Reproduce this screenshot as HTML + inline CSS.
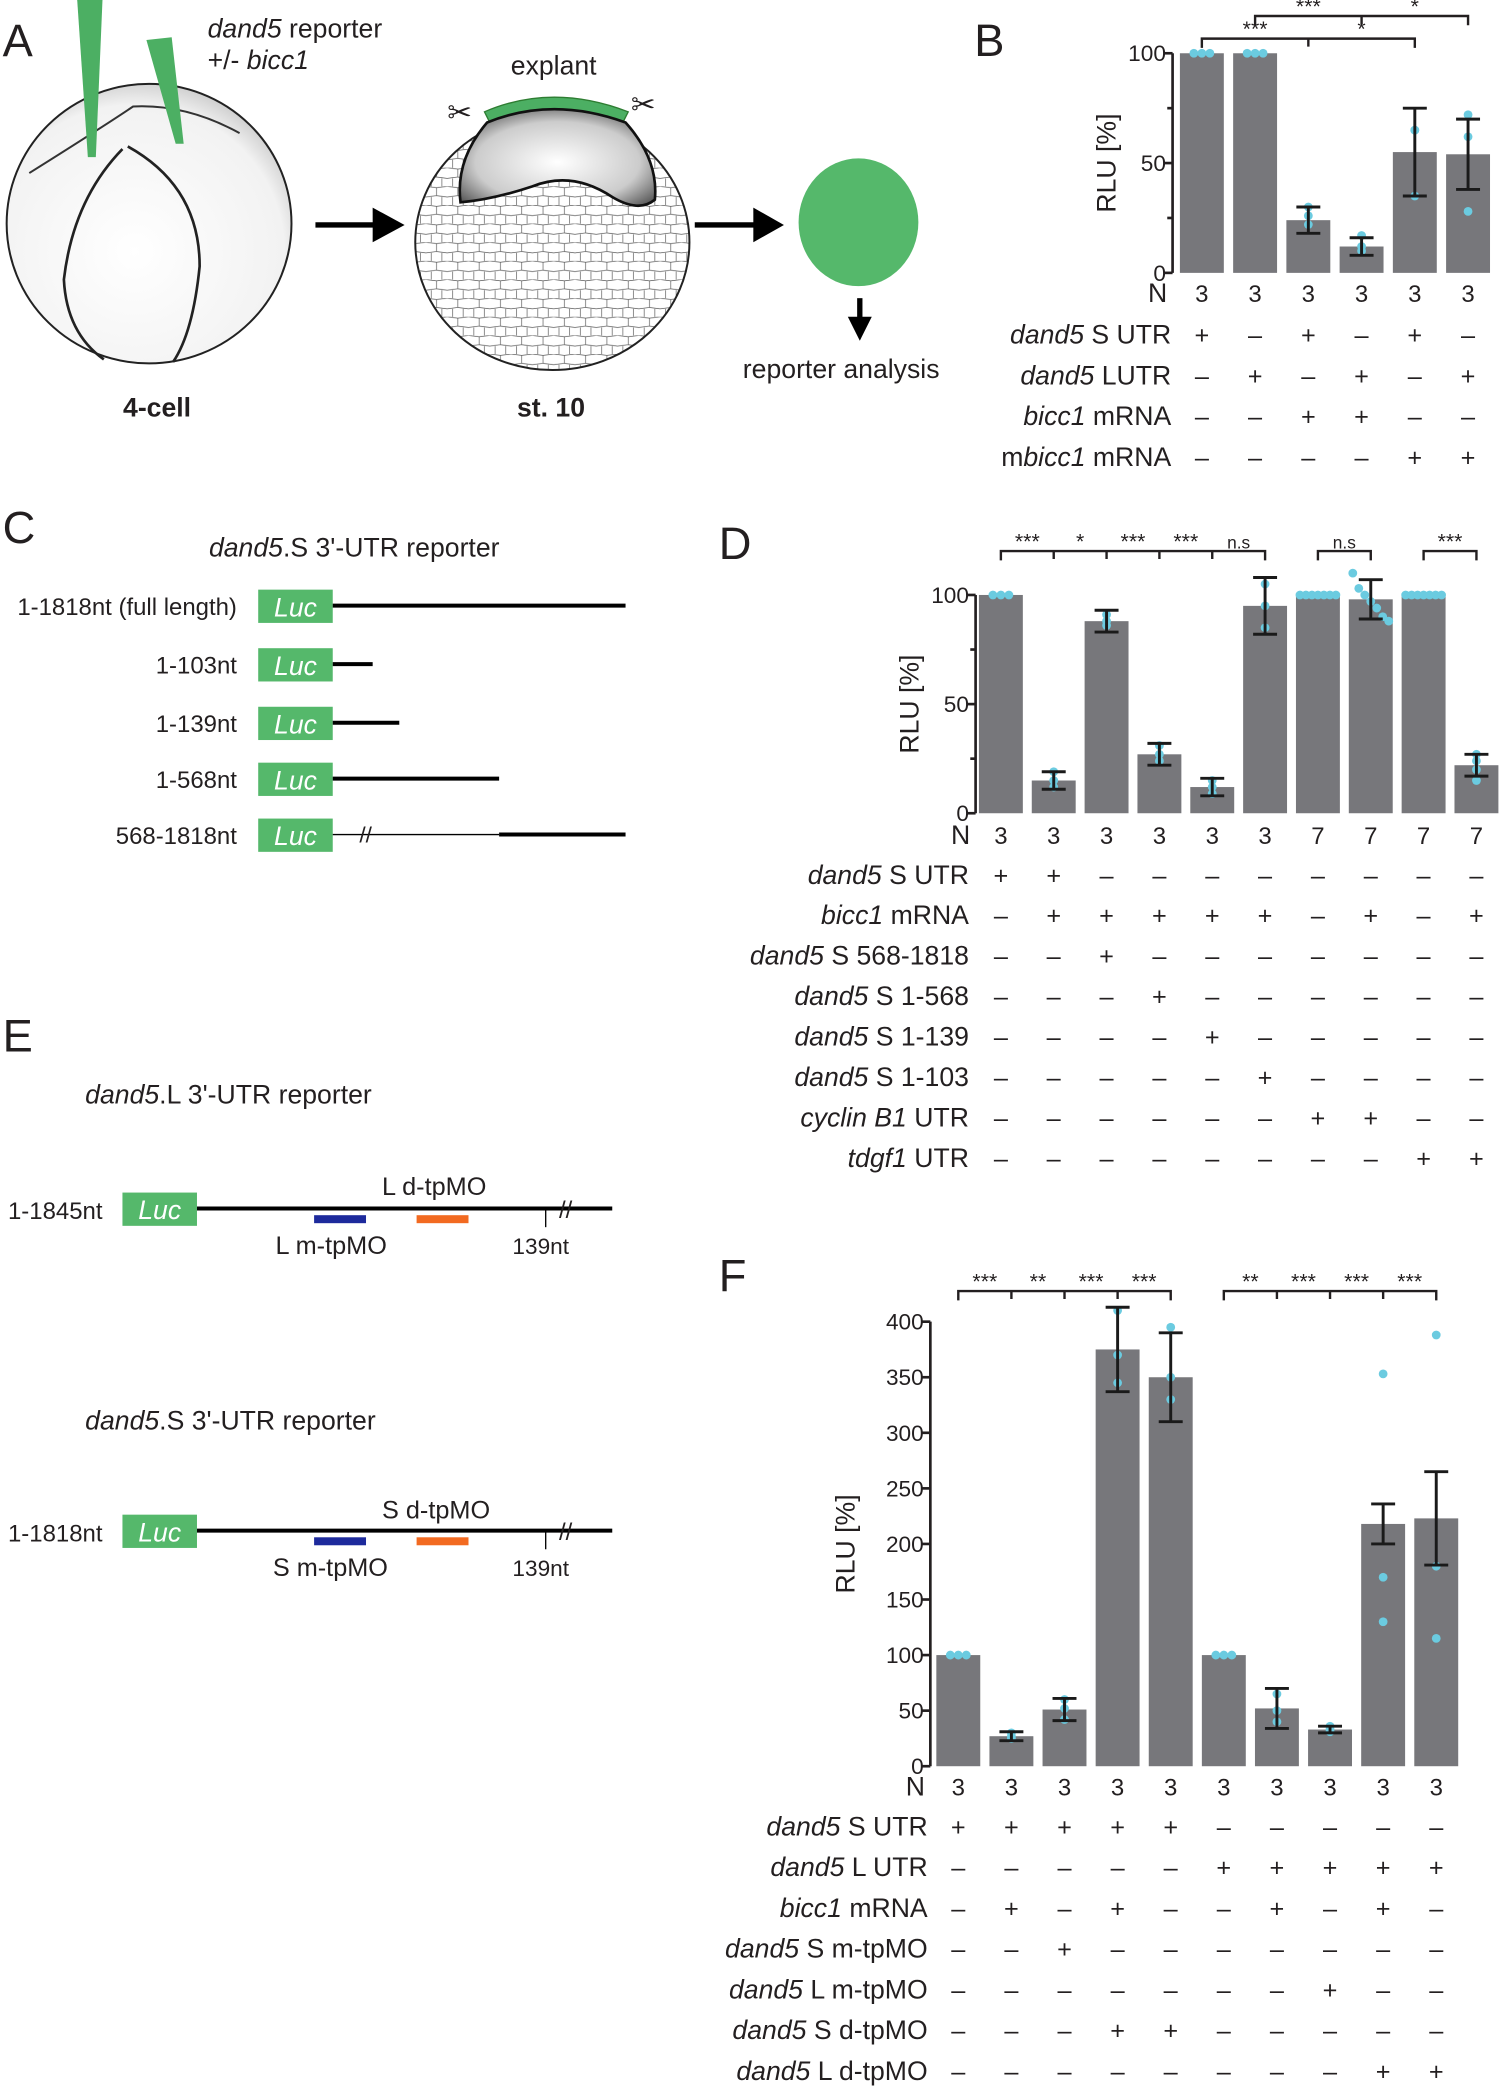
<!DOCTYPE html>
<html><head><meta charset="utf-8"><style>
html,body{margin:0;padding:0;background:#fff}
svg{display:block}
text{font-family:"Liberation Sans",sans-serif;fill:#231f20}
.it{font-style:italic}
</style></head><body>
<svg id="fig" width="1500" height="2087" viewBox="0 0 1127 1568" xmlns="http://www.w3.org/2000/svg">
<defs>
<radialGradient id="eggG" cx="0.45" cy="0.6" r="0.75"><stop offset="0" stop-color="#fff"/><stop offset="0.7" stop-color="#f2f2f2"/><stop offset="1" stop-color="#999"/></radialGradient>
<radialGradient id="cavG" cx="0.5" cy="0.55" r="0.7"><stop offset="0" stop-color="#fff"/><stop offset="0.6" stop-color="#ccc"/><stop offset="1" stop-color="#333"/></radialGradient>
<pattern id="cells" width="16" height="14" patternUnits="userSpaceOnUse"><path d="M0 0 L8 1 L16 0 M8 1 L8 7 L0 8 M8 7 L16 8 M4 8 L4 14 M12 8 L12 14" stroke="#555" stroke-width="0.5" fill="none"/></pattern>
</defs>

<!-- Panel A -->
<g>
<text x="2" y="42" font-size="34">A</text>
<ellipse cx="112" cy="168" rx="107" ry="105" fill="url(#eggG)" stroke="#222" stroke-width="1.5"/>
<path d="M92 112 Q55 150 48 210 Q50 250 78 270" stroke="#222" stroke-width="2" fill="none"/>
<path d="M96 110 Q150 140 150 200 Q145 250 130 272" stroke="#222" stroke-width="2" fill="none"/>
<path d="M22 130 Q70 100 100 80 Q140 78 180 100" stroke="#333" stroke-width="1.5" fill="none"/>
<polygon points="58,0 77,0 72,118 66,118" fill="#4caf63"/>
<polygon points="110,30 129,28 138,108 132,108" fill="#4caf63"/>
<text x="156" y="28" font-size="20"><tspan class="it">dand5</tspan> reporter</text>
<text x="156" y="52" font-size="20">+/- <tspan class="it">bicc1</tspan></text>
<text x="118" y="313" font-size="20" font-weight="bold" text-anchor="middle">4-cell</text>
<line x1="237" y1="169" x2="285" y2="169" stroke="#000" stroke-width="4"/>
<polygon points="280,156 304,169 280,182" fill="#000"/>
<ellipse cx="415" cy="182" rx="103" ry="96" fill="url(#cells)" stroke="#222" stroke-width="1.5"/>
<path d="M364 84 Q415 62 472 84 L468 92 Q415 72 368 92 Z" fill="#4caf63" stroke="#2e7d32" stroke-width="1"/>
<path d="M366 92 Q415 72 470 92 Q495 120 492 150 Q480 160 460 148 Q430 128 400 140 Q370 150 346 152 Q342 120 366 92 Z" fill="url(#cavG)" stroke="#111" stroke-width="2"/>
<text x="416" y="56" font-size="20" text-anchor="middle">explant</text>
<text x="336" y="92" font-size="22">✂</text>
<text x="474" y="86" font-size="22">✂</text>
<text x="414" y="313" font-size="20" font-weight="bold" text-anchor="middle">st. 10</text>
<line x1="522" y1="169" x2="570" y2="169" stroke="#000" stroke-width="4"/>
<polygon points="566,156 589,169 566,182" fill="#000"/>
<ellipse cx="645" cy="167" rx="45" ry="48" fill="#55b86b"/>
<line x1="646" y1="224" x2="646" y2="242" stroke="#000" stroke-width="4"/>
<polygon points="637,238 646,256 655,238" fill="#000"/>
<text x="632" y="284" font-size="20" text-anchor="middle">reporter analysis</text>
</g>

<text x="732" y="42" font-size="34">B</text>
<text x="2" y="408" font-size="34">C</text>
<text x="540" y="420" font-size="34">D</text>
<text x="2" y="790" font-size="34">E</text>
<text x="540" y="970" font-size="34">F</text>

<!-- Panel C -->
<g>
<text x="157" y="418" font-size="20"><tspan class="it">dand5</tspan>.S 3'-UTR reporter</text>
<g id="cRows"></g>
</g>

<!-- Panel E -->
<g>
<text x="64" y="829" font-size="20"><tspan class="it">dand5</tspan>.L 3'-UTR reporter</text>
<text x="6" y="916" font-size="18">1-1845nt</text>
<rect x="92" y="896" width="56" height="25" fill="#55b86b"/>
<text x="120" y="916" font-size="20" class="it" text-anchor="middle" style="fill:#fff">Luc</text>
<line x1="148" y1="908" x2="460" y2="908" stroke="#000" stroke-width="3"/>
<text x="420" y="915" font-size="18">//</text>
<rect x="236" y="913" width="39" height="6" fill="#1d2a9c"/>
<rect x="313" y="913" width="39" height="6" fill="#f26a21"/>
<line x1="410" y1="908" x2="410" y2="922" stroke="#000" stroke-width="1"/>
<text x="287" y="898" font-size="19">L d-tpMO</text>
<text x="207" y="942" font-size="19">L m-tpMO</text>
<text x="385" y="942" font-size="17">139nt</text>

<text x="64" y="1074" font-size="20"><tspan class="it">dand5</tspan>.S 3'-UTR reporter</text>
<text x="6" y="1158" font-size="18">1-1818nt</text>
<rect x="92" y="1138" width="56" height="25" fill="#55b86b"/>
<text x="120" y="1158" font-size="20" class="it" text-anchor="middle" style="fill:#fff">Luc</text>
<line x1="148" y1="1150" x2="460" y2="1150" stroke="#000" stroke-width="3"/>
<text x="420" y="1157" font-size="18">//</text>
<rect x="236" y="1155" width="39" height="6" fill="#1d2a9c"/>
<rect x="313" y="1155" width="39" height="6" fill="#f26a21"/>
<line x1="410" y1="1150" x2="410" y2="1164" stroke="#000" stroke-width="1"/>
<text x="287" y="1141" font-size="19">S d-tpMO</text>
<text x="205" y="1184" font-size="19">S m-tpMO</text>
<text x="385" y="1184" font-size="17">139nt</text>
</g>

<g id="chartB"></g>
<g id="chartD"></g>
<g id="chartF"></g>
</svg>
<script>
var NS='http://www.w3.org/2000/svg';
// ---- Panel C data ----
var cLabels=['1-1818nt (full length)','1-103nt','1-139nt','1-568nt','568-1818nt'];
// ---- Panel B data ----
var bValues=[100,100,24,12,55,54];
var bErrors=[0,0,6,4,20,16];
var bDots=[[100,100,100],[100,100,100],[30,26,22],[17,12,10],[65,65,35],[72,62,28]];
var bN=[3,3,3,3,3,3];
var bTicks=[0,50,100];
var bRowLabels=[['dand5',' S UTR'],['dand5',' LUTR'],['bicc1',' mRNA'],['mbicc1',' mRNA']];
var bSigns=['+-+-+-','-+-+-+','--++--','----++'];
// ---- Panel D data ----
var dValues=[100,15,88,27,12,95,100,98,100,22];
var dErrors=[0,4,5,5,4,13,0,9,0,5];
var dDots=[[100,100,100],[19,15,12],[91,88,86],[31,27,24],[15,12,9],[105,95,85],[100,100,100,100,100,100,100],[110,103,100,97,94,90,88],[100,100,100,100,100,100,100],[27,24,20,15]];
var dN=[3,3,3,3,3,3,7,7,7,7];
var dTicks=[0,50,100];
var dRowLabels=[['dand5',' S UTR'],['bicc1',' mRNA'],['dand5',' S 568-1818'],['dand5',' S 1-568'],['dand5',' S 1-139'],['dand5',' S 1-103'],['cyclin B1',' UTR'],['tdgf1',' UTR']];
var dSigns=['++--------','-+++++-+-+','--+-------','---+------','----+-----','-----+----','------++--','--------++'];
// ---- Panel F data ----
var fValues=[100,27,51,375,350,100,52,33,218,223];
var fErrors=[0,4,10,38,40,0,18,3,18,42];
var fDots=[[100,100,100],[30,27,25],[60,52,42],[410,370,345],[395,350,330],[100,100,100],[65,50,40],[36,33,31],[353,170,130],[388,180,115]];
var fN=[3,3,3,3,3,3,3,3,3,3];
var fTicks=[0,50,100,150,200,250,300,350,400];
var fRowLabels=[['dand5',' S UTR'],['dand5',' L UTR'],['bicc1',' mRNA'],['dand5',' S m-tpMO'],['dand5',' L m-tpMO'],['dand5',' S d-tpMO'],['dand5',' L d-tpMO']];
var fSigns=['+++++-----','-----+++++','-+-+--+-+-','--+-------','-------+--','---++-----','--------++'];

function el(tag,attrs,parent){var e=document.createElementNS(NS,tag);for(var k in attrs)e.setAttribute(k,attrs[k]);parent.appendChild(e);return e;}

// Panel C
(function(){
 var g=document.getElementById('cRows');
 var ys=[455,499,543,585,627];
 var ends=[470,280,300,375,470];
 for(var i=0;i<cLabels.length;i++){
  var y=ys[i];
  var t=el('text',{x:178,y:y+7,'font-size':18,'text-anchor':'end'},g);t.textContent=cLabels[i];
  
  
  var r=el('rect',{x:194,y:y-12,width:56,height:25,fill:'#55b86b'},g);
  
  
  var lt=el('text',{x:222,y:y+8,'font-size':20,'text-anchor':'middle',style:'fill:#fff;font-style:italic'},g);lt.textContent='Luc';
  
  
  if(i<4){var l=el('line',{x1:250,y1:y,x2:ends[i],y2:y,stroke:'#000','stroke-width':3},g);
   
   }
  else{el('line',{x1:250,y1:y,x2:375,y2:y,stroke:'#000','stroke-width':1},g);
   var l2=el('line',{x1:375,y1:y,x2:470,y2:y,stroke:'#000','stroke-width':3},g);
   
   
   var b=el('text',{x:270,y:y+6,'font-size':17},g);b.textContent='//';}
 }
})();

function drawChart(gid,cfg){
 var g=document.getElementById(gid);
 function ys(v){return cfg.y0-(v-cfg.ymin)/(cfg.ymax-cfg.ymin)*(cfg.y0-cfg.y1);}
 function xs(i){return cfg.x0+i*cfg.step;}
 var ax=el('line',{x1:cfg.axX,y1:ys(cfg.ymin),x2:cfg.axX,y2:ys(cfg.ticks[cfg.ticks.length-1]),stroke:'#231f20','stroke-width':2},g);
 
 
 cfg.ticks.forEach(function(t){
  el('line',{x1:cfg.axX-6,y1:ys(t),x2:cfg.axX,y2:ys(t),stroke:'#231f20','stroke-width':2},g);
  var tx=el('text',{x:cfg.axX-5,y:ys(t)+6,'font-size':17,'text-anchor':'end'},g);tx.textContent=t;
  
  
 });
 if(cfg.minor){cfg.minor.forEach(function(t){el('line',{x1:cfg.axX-4,y1:ys(t),x2:cfg.axX,y2:ys(t),stroke:'#231f20','stroke-width':2},g);});}
 var yt=el('text',{x:0,y:0,'font-size':20,'text-anchor':'middle',transform:'translate('+cfg.titleX+','+((ys(cfg.ymin)+ys(cfg.ticks[cfg.ticks.length-1]))/2)+') rotate(-90)'},g);yt.textContent='RLU [%]';
 
 
 cfg.values.forEach(function(v,i){
  var cx=xs(i),bw=cfg.bw;
  var r=el('rect',{x:cx-bw/2,y:ys(v),width:bw,height:ys(cfg.ymin)-ys(v),fill:'#77777b'},g);
  
  
  var dots=cfg.dots[i];
  dots.forEach(function(d,j){
   var off=(j-(dots.length-1)/2)*(dots.length>4?4.5:(d===dots[0]&&dots.every(function(q){return q===d;})?6:0));
   var c=el('circle',{cx:cx+off,cy:ys(d),r:3.3,fill:'#6bcbe0'},g);
   
   
  });
  var e=cfg.errors[i];
  if(e>0){
   var eg=el('path',{d:'M'+(cx-9)+' '+ys(v+e)+'H'+(cx+9)+'M'+cx+' '+ys(v+e)+'V'+ys(v-e)+'M'+(cx-9)+' '+ys(v-e)+'H'+(cx+9),stroke:'#1a1a1a','stroke-width':2.2,fill:'none'},g);
   
   
  }
  var nt=el('text',{x:cx,y:cfg.nY,'font-size':18,'text-anchor':'middle'},g);nt.textContent=cfg.n[i];
  
  
 });
 var nl=el('text',{x:cfg.axX-4,y:cfg.nY,'font-size':20,'text-anchor':'end'},g);nl.textContent='N';
 
 
 cfg.rows.forEach(function(lab,r){
  var y=cfg.rowY0+r*cfg.rowStep;
  var t=el('text',{x:cfg.labX,y:y,'font-size':20,'text-anchor':'end'},g);
  var s1=el('tspan',{'font-style':'italic'},t);s1.textContent=lab[0];
  var s2=el('tspan',{},t);s2.textContent=lab[1];
  if(lab[0]==='mbicc1'){s1.textContent='bicc1';var s0=document.createElementNS(NS,'tspan');s0.textContent='m';t.insertBefore(s0,s1);}
  
  
  var sg=cfg.signs[r];
  for(var i=0;i<sg.length;i++){
   var st=el('text',{x:xs(i),y:y,'font-size':19,'text-anchor':'middle'},g);st.textContent=sg[i]==='+'?'+':'\u2013';
   
   
  }
 });
 cfg.brackets.forEach(function(b){
  var y=b.y,d='M'+xs(b.idx[0])+' '+(y+7)+'V'+y+'H'+xs(b.idx[b.idx.length-1])+'V'+(y+7);
  for(var k=1;k<b.idx.length-1;k++)d+='M'+xs(b.idx[k])+' '+y+'V'+(y+6);
  var p=el('path',{d:d,stroke:'#231f20','stroke-width':1.8,fill:'none'},g);
  
  
  b.labels.forEach(function(l,k){
   var mx=(xs(b.idx[k])+xs(b.idx[k+1]))/2;
   var lt=el('text',{x:mx,y:y-2,'font-size':l==='n.s'?13:16,'text-anchor':'middle'},g);lt.textContent=l;
   
   
  });
 });
}

drawChart('chartB',{values:bValues,errors:bErrors,dots:bDots,n:bN,ticks:bTicks,minor:[25,75],ymin:0,ymax:100,y0:205,y1:40,x0:903,step:40,bw:33,axX:881,titleX:838,nY:227,rows:bRowLabels,signs:bSigns,rowY0:258,rowStep:30.7,labX:880,
 brackets:[{y:12,idx:[1,3,5],labels:['***','*']},{y:29,idx:[0,2,4],labels:['***','*']}]});
drawChart('chartD',{values:dValues,errors:dErrors,dots:dDots,n:dN,ticks:dTicks,minor:[25,75],ymin:0,ymax:100,y0:611,y1:447,x0:752,step:39.7,bw:33,axX:733,titleX:690,nY:634,rows:dRowLabels,signs:dSigns,rowY0:664,rowStep:30.4,labX:728,
 brackets:[{y:414,idx:[0,1,2,3,4,5],labels:['***','*','***','***','n.s']},{y:414,idx:[6,7],labels:['n.s']},{y:414,idx:[8,9],labels:['***']}]});
drawChart('chartF',{values:fValues,errors:fErrors,dots:fDots,n:fN,ticks:fTicks,ymin:0,ymax:400,y0:1327,y1:993,x0:720,step:39.9,bw:33,axX:699,titleX:642,nY:1349,rows:fRowLabels,signs:fSigns,rowY0:1379,rowStep:30.6,labX:697,
 brackets:[{y:970,idx:[0,1,2,3,4],labels:['***','**','***','***']},{y:970,idx:[5,6,7,8,9],labels:['**','***','***','***']}]});
</script>
</body></html>
